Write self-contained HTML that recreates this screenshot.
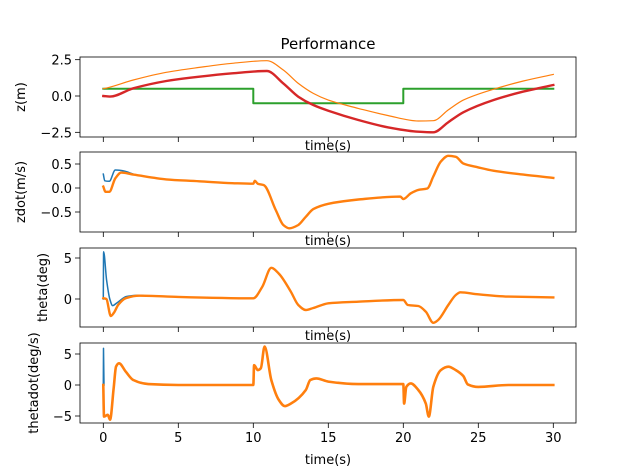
<!DOCTYPE html>
<html><head><meta charset="utf-8"><style>
body{margin:0;background:#fff}
svg{display:block}
text{font-family:"DejaVu Sans","Liberation Sans",sans-serif;fill:#000}
</style></head><body>
<svg id="fig" width="640" height="475" viewBox="0 0 640 475" xmlns="http://www.w3.org/2000/svg">
<rect width="640" height="475" fill="#fff"/>
<text x="328" y="49" font-size="15" text-anchor="middle">Performance</text>
</svg>
<script>
// ---- data ----
const xTicks = [0,5,10,15,20,25,30];
const p1Ticks = [2.5,0,-2.5];
const p2Ticks = [0.5,0,-0.5];
const p3Ticks = [5,0];
const p4Ticks = [5,0,-5];
const yLabels = ["z(m)","zdot(m/s)","theta(deg)","thetadot(deg/s)"];

const refT = [0,10,10,20,20,30];
const refV = [0.5,0.5,-0.5,-0.5,0.5,0.5];
const zEstT = [0,0.4,2,4.2,6.4,8.6,10.9,12,13,14,15,17,19,21,22,23,24,26,28,30];
const zEstV = [0.5,0.6,1.1,1.63,1.97,2.25,2.43,1.79,0.87,0.18,-0.28,-0.85,-1.35,-1.72,-1.7,-0.96,-0.28,0.46,1.03,1.49];
const zT = [0,0.44,2,4.2,6.4,8.6,10.9,12,13,14,15,17,19,21,22,23,24,26,28,30];
const zV = [0,-0.04,0.53,1.03,1.33,1.56,1.72,0.87,-0.05,-0.62,-1.01,-1.65,-2.16,-2.46,-2.5,-1.8,-1.12,-0.28,0.3,0.76];

const zdBlueT = [0,0.1,0.4,0.8,1.3,2];
const zdBlueV = [0.29,0.15,0.14,0.375,0.36,0.29];
const zdT = [0,0.15,0.4,0.8,1.2,2,4.2,6.4,8.6,10,10.1,10.3,10.7,11.5,12,12.4,13,13.5,14,15,17,19.8,20,20.5,21,21.6,22,22.5,23,23.5,24,25,26,28,30];
const zdV = [0.03,-0.08,-0.08,0.2,0.32,0.28,0.18,0.14,0.1,0.09,0.15,0.09,0.06,-0.46,-0.77,-0.84,-0.77,-0.6,-0.44,-0.33,-0.24,-0.18,-0.23,-0.11,-0.04,-0.01,0.24,0.55,0.67,0.65,0.51,0.43,0.36,0.28,0.21];

const thBlueT = [0,0.02,0.22,0.44,0.62,0.89,1.55,2.4,3];
const thBlueV = [0,5.77,2.3,-0.05,-0.8,-0.5,0.3,0.45,0.35];
const thT = [0,0.2,0.5,0.7,1,1.5,2.4,5,10,10.6,11.2,11.7,12.5,13,13.5,14,15,17,20,20.3,21,21.5,22,22.3,23,23.5,23.8,25,27,30];
const thV = [0.1,0,-2.07,-1.7,-0.7,0.1,0.4,0.25,0.08,1.5,3.8,3.1,0.9,-0.73,-1.34,-1.1,-0.53,-0.33,-0.12,-0.73,-0.85,-1.55,-2.9,-2.6,-0.73,0.49,0.82,0.57,0.29,0.2];

const tdBlueT = [0,0.01,0.05];
const tdBlueV = [0,5.9,0];
const tdT = [0,0.05,0.3,0.45,0.7,0.85,1.05,1.5,2,3,5,10,10.05,10.3,10.5,10.75,11.2,11.7,12.1,12.5,13.5,13.8,14.2,15,17,20,20.05,20.2,20.5,21,21.5,21.7,22,22.5,23,23.5,24,24.3,25,27,30];
const tdV = [0,-5.1,-4.8,-5.6,-0.3,2.95,3.5,2.15,0.8,0.15,0,0,3.2,2.4,2.7,6.2,0.8,-2.4,-3.4,-3,-0.8,0.8,1.07,0.55,0.15,0.15,-3,-0.3,0.25,-0.8,-3,-5.1,-0.3,2.4,2.95,2.4,1.45,0.1,-0.3,0,0];

// ---- layout ----
const svg = document.getElementById('fig');
const NS = 'http://www.w3.org/2000/svg';
const L = 80, R = 576;
const xs = t => 103.3 + t*15;
const panels = [
  {top:57,bot:137,y0:96,ppu:14.53,ticks:p1Ticks,fmt:v=>v.toFixed(1),lx:25},
  {top:152,bot:232,y0:188,ppu:48,ticks:p2Ticks,fmt:v=>v.toFixed(1),lx:25},
  {top:248,bot:327,y0:299,ppu:8.2,ticks:p3Ticks,fmt:v=>String(v),lx:47},
  {top:343,bot:423,y0:385,ppu:6.2,ticks:p4Ticks,fmt:v=>String(v),lx:38}
];
function el(tag, attrs, parent){
  const e = document.createElementNS(NS, tag);
  for (const k in attrs) e.setAttribute(k, attrs[k]);
  (parent||svg).appendChild(e);
  return e;
}
function fmtNum(s){return s.replace('-', '\u2212');}
function monotonePath(X, Y){
  const n = X.length;
  if (n < 3) return 'M' + X.map((x,i)=>x.toFixed(1)+','+Y[i].toFixed(1)).join(' L');
  const d = [], m = new Array(n);
  for (let i=0;i<n-1;i++) d.push((Y[i+1]-Y[i])/((X[i+1]-X[i])||1e-6));
  m[0]=d[0]; m[n-1]=d[n-2];
  for (let i=1;i<n-1;i++){
    if (d[i-1]*d[i] <= 0) m[i]=0;
    else { const h0=X[i]-X[i-1], h1=X[i+1]-X[i];
      const w1=2*h1+h0, w2=h1+2*h0;
      m[i]=(w1+w2)/(w1/d[i-1]+w2/d[i]); }
  }
  let s = 'M'+X[0].toFixed(1)+','+Y[0].toFixed(1);
  for (let i=0;i<n-1;i++){
    const h=(X[i+1]-X[i])/3;
    s += ' C'+(X[i]+h).toFixed(1)+','+(Y[i]+m[i]*h).toFixed(1)+' '+(X[i+1]-h).toFixed(1)+','+(Y[i+1]-m[i+1]*h).toFixed(1)+' '+X[i+1].toFixed(1)+','+Y[i+1].toFixed(1);
  }
  return s;
}
function line(p, T, V, color, w, name, straight){
  const ys = v => p.y0 - v*p.ppu;
  const X = T.map(xs), Y = V.map(ys);
  const dAttr = straight ? 'M' + X.map((x,i)=>x.toFixed(1)+','+Y[i].toFixed(1)).join(' L') : monotonePath(X, Y);
  const pl = el('path',{d:dAttr,fill:'none',stroke:color,'stroke-width':w,'stroke-linejoin':'round','stroke-linecap':'square','clip-path':'url(#clip'+panels.indexOf(p)+')'});
  
  
}
const defs = el('defs',{});
panels.forEach((p,i)=>{
  const cp = el('clipPath',{id:'clip'+i},defs);
  el('rect',{x:L,y:p.top,width:R-L,height:p.bot-p.top},cp);
});
const xlabelY = [150,245,340,464];
panels.forEach((p,i)=>{
  const g = el('g',{});
  
  
  p.ticks.forEach(v=>{
    const y = p.y0 - v*p.ppu;
    el('line',{x1:L-5,x2:L,y1:y,y2:y,stroke:'#000','stroke-width':0.8},g);
    const t = el('text',{x:L-8,y:y+5,'font-size':13,'text-anchor':'end'},g);
    t.textContent = fmtNum(p.fmt(v));
    
    
  });
  xTicks.forEach(v=>{
    el('line',{x1:xs(v),x2:xs(v),y1:p.bot,y2:p.bot+5,stroke:'#000','stroke-width':0.8},g);
    if (i===3){
      const t = el('text',{x:xs(v),y:p.bot+19,'font-size':13,'text-anchor':'middle'},g);
      t.textContent = String(v);
      
      
    }
  });
  const yl = el('text',{x:p.lx,y:(p.top+p.bot)/2,'font-size':13,'text-anchor':'middle',transform:'rotate(-90 '+p.lx+' '+((p.top+p.bot)/2)+')'},g);
  yl.textContent = yLabels[i];
  
  
});
line(panels[0], refT, refV, '#2ca02c', 2, 'reference-line', true);
line(panels[0], zEstT, zEstV, '#ff7f0e', 1.2, 'z-estimate-line');
line(panels[0], zT, zV, '#d62728', 2.4, 'z-line');
line(panels[1], zdBlueT, zdBlueV, '#1f77b4', 1.5, 'zdot-line-1');
line(panels[1], zdT, zdV, '#ff7f0e', 2.4, 'zdot-line-2');
line(panels[2], thBlueT, thBlueV, '#1f77b4', 1.5, 'theta-line-1');
line(panels[2], thT, thV, '#ff7f0e', 2.4, 'theta-line-2');
line(panels[3], tdBlueT, tdBlueV, '#1f77b4', 1.5, 'thetadot-line-1', true);
line(panels[3], tdT, tdV, '#ff7f0e', 2.6, 'thetadot-line-2');
panels.forEach((p,i)=>{
  const fr = el('rect',{x:L,y:p.top,width:R-L,height:p.bot-p.top,fill:'none',stroke:'#000','stroke-width':0.8});
  
  
  const xl = el('text',{x:328,y:xlabelY[i],'font-size':13,'text-anchor':'middle'});
  xl.textContent = 'time(s)';
  
  
});
</script>
</body></html>
